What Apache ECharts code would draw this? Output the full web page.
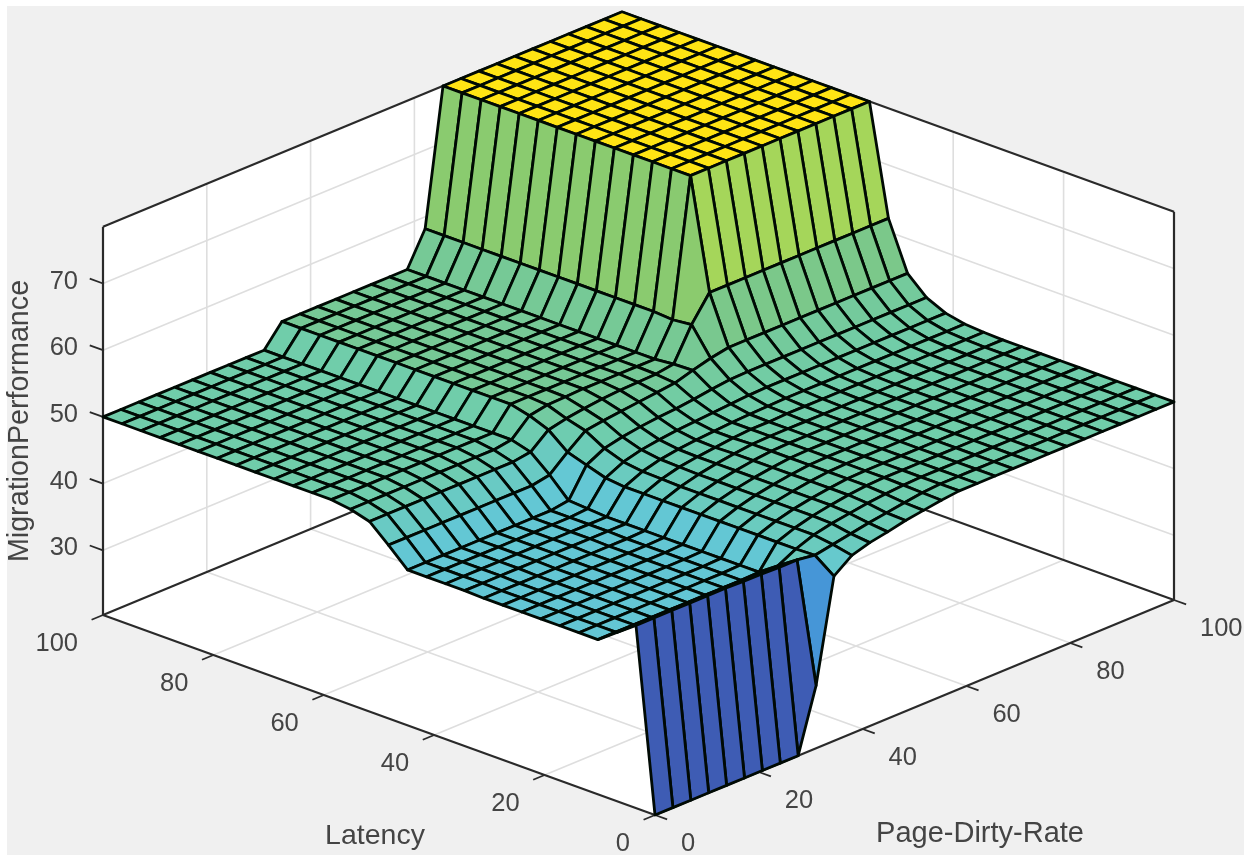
<!DOCTYPE html>
<html><head><meta charset="utf-8">
<style>html,body{margin:0;padding:0;background:#fff}#c{width:1250px;height:862px;filter:blur(0.7px)}</style>
<script src="https://cdn.jsdelivr.net/npm/echarts@6/dist/echarts.min.js"></script></head>
<body><div id="c"></div>
<script>
var latencyTicks=[0,20,40,60,80,100];
var pageDirtyTicks=[0,20,40,60,80,100];
var performanceTicks=[30,40,50,60,70];
var gridSize=30;
// rows: Latency index 0..29, columns: Page-Dirty-Rate index 0..29
var performance=[
[20.3,20.3,20.3,20.3,20.3,20.3,20.3,20.3,20.3,29.7,45,47,47.8,48.3,48.9,49.3,49.7,50,50,50,50,50,50,50,50,50,50,50,50,50],
[47.7,47.7,47.7,47.7,47.7,47.7,47.6,47.6,47.5,47.5,47.1,47.6,48.1,48.6,49,49.4,49.8,50,50,50,50,50,50,50,50,50,50,50,50,50],
[45.6,45.6,45.6,45.6,45.6,45.6,45.6,45.6,45.6,45.6,47,48,48.6,49,49.4,49.7,49.9,50,50,50,50,50,50,50,50,50,50,50,50,50],
[43.5,43.5,43.5,43.5,43.5,43.5,43.5,43.5,43.5,43.6,47,48,48.7,49.2,49.6,49.9,50,50,50,50,50,50,50,50,50,50,50,50,50,50],
[43.5,43.5,43.5,43.5,43.5,43.5,43.5,43.5,43.5,43.6,47,48,48.7,49.2,49.6,49.9,50,50,50,50,50,50,50,50,50,50,50,50,50,50],
[43.5,43.5,43.5,43.5,43.5,43.5,43.5,43.5,43.5,43.6,47,48,48.7,49.2,49.6,49.9,50,50,50,50,50,50,50,50,50,50,50,50,50,50],
[43.5,43.5,43.5,43.5,43.5,43.5,43.5,43.5,43.5,43.6,47,48,48.7,49.2,49.6,49.9,50,50,50,50,50,50,50,50,50,50,50,50,50,50],
[43.5,43.5,43.5,43.5,43.5,43.5,43.5,43.5,43.5,43.6,47,48,48.7,49.2,49.6,49.9,50,50,50,50,50,50,50,50,50,50,50,50,50,50],
[43.5,43.5,43.5,43.5,43.5,43.5,43.5,43.5,43.5,43.6,47,48,48.7,49.2,49.6,49.9,50,50,50,50,50,50,50,50,50,50,50,50,50,50],
[43.5,43.5,43.5,43.5,43.5,43.5,43.5,43.5,43.5,43.6,47,48,48.7,49.2,49.6,49.9,50,50,50,50,50,50,50,50,50,50,50,50,50,50],
[43.6,43.6,43.6,43.6,43.6,43.6,43.6,43.6,43.6,43.6,47,48.1,48.8,49.2,49.5,49.8,50,50,50.1,50.1,50.1,50.1,50.1,50.1,50.1,50.1,50.1,50.1,50.1,50.1],
[43.6,43.6,43.6,43.6,43.6,43.6,43.6,43.6,43.6,43.6,47,48.2,48.9,49.3,49.6,49.8,50,50.1,50.2,50.3,50.3,50.3,50.3,50.3,50.3,50.3,50.3,50.3,50.3,50.3],
[43.6,43.6,43.6,43.6,43.6,43.6,43.6,43.6,43.6,43.8,47.3,48.6,49.3,49.7,50,50.2,50.4,50.6,50.8,50.9,50.9,50.9,50.9,50.9,50.9,50.9,50.9,50.9,50.9,50.9],
[43.6,43.6,43.6,43.6,43.6,43.6,43.6,43.6,43.6,44,48.2,49.6,50.2,50.6,50.9,51.1,51.4,51.8,52.1,52.2,52.2,52.2,52.2,52.2,52.2,52.2,52.2,52.2,52.2,52.2],
[46.3,46.3,46.3,46.3,46.3,46.3,46.3,46.3,46.3,46.8,49.1,51.2,51.6,51.9,52.2,52.5,52.8,53.6,54.3,54.8,54.8,54.8,54.8,54.8,54.8,54.8,54.8,54.8,54.8,54.8],
[48.8,48.8,48.8,48.8,48.8,48.8,48.8,48.8,48.8,49.2,51.4,52,52.4,52.7,52.9,53,53.1,53.5,58.3,62,62,62,62,62,62,62,62,62,62,62],
[49.6,49.6,49.6,49.6,49.6,49.6,49.6,49.6,49.6,50,52.5,53,53.1,53.2,53.2,53.2,53.2,53.2,58,78.5,78.5,78.5,78.5,78.5,78.5,78.5,78.5,78.5,78.5,78.5],
[50,50,50,50,50,50,50,50,50,50,53.2,53.2,53.2,53.2,53.2,53.2,53.2,53.2,58.2,78.5,78.5,78.5,78.5,78.5,78.5,78.5,78.5,78.5,78.5,78.5],
[50,50,50,50,50,50,50,50,50,50,53.2,53.2,53.2,53.2,53.2,53.2,53.2,53.2,58.2,78.5,78.5,78.5,78.5,78.5,78.5,78.5,78.5,78.5,78.5,78.5],
[50,50,50,50,50,50,50,50,50,50,53.2,53.2,53.2,53.2,53.2,53.2,53.2,53.2,58.2,78.5,78.5,78.5,78.5,78.5,78.5,78.5,78.5,78.5,78.5,78.5],
[50,50,50,50,50,50,50,50,50,50,53.2,53.2,53.2,53.2,53.2,53.2,53.2,53.2,58.2,78.5,78.5,78.5,78.5,78.5,78.5,78.5,78.5,78.5,78.5,78.5],
[50,50,50,50,50,50,50,50,50,50,53.2,53.2,53.2,53.2,53.2,53.2,53.2,53.2,58.2,78.5,78.5,78.5,78.5,78.5,78.5,78.5,78.5,78.5,78.5,78.5],
[50,50,50,50,50,50,50,50,50,50,53.2,53.2,53.2,53.2,53.2,53.2,53.2,53.2,58.2,78.5,78.5,78.5,78.5,78.5,78.5,78.5,78.5,78.5,78.5,78.5],
[50,50,50,50,50,50,50,50,50,50,53.2,53.2,53.2,53.2,53.2,53.2,53.2,53.2,58.2,78.5,78.5,78.5,78.5,78.5,78.5,78.5,78.5,78.5,78.5,78.5],
[50,50,50,50,50,50,50,50,50,50,53.2,53.2,53.2,53.2,53.2,53.2,53.2,53.2,58.2,78.5,78.5,78.5,78.5,78.5,78.5,78.5,78.5,78.5,78.5,78.5],
[50,50,50,50,50,50,50,50,50,50,53.2,53.2,53.2,53.2,53.2,53.2,53.2,53.2,58.2,78.5,78.5,78.5,78.5,78.5,78.5,78.5,78.5,78.5,78.5,78.5],
[50,50,50,50,50,50,50,50,50,50,53.2,53.2,53.2,53.2,53.2,53.2,53.2,53.2,58.2,78.5,78.5,78.5,78.5,78.5,78.5,78.5,78.5,78.5,78.5,78.5],
[50,50,50,50,50,50,50,50,50,50,53.2,53.2,53.2,53.2,53.2,53.2,53.2,53.2,58.2,78.5,78.5,78.5,78.5,78.5,78.5,78.5,78.5,78.5,78.5,78.5],
[50,50,50,50,50,50,50,50,50,50,53.2,53.2,53.2,53.2,53.2,53.2,53.2,53.2,58.2,78.5,78.5,78.5,78.5,78.5,78.5,78.5,78.5,78.5,78.5,78.5],
[50,50,50,50,50,50,50,50,50,50,53.2,53.2,53.2,53.2,53.2,53.2,53.2,53.2,58.2,78.5,78.5,78.5,78.5,78.5,78.5,78.5,78.5,78.5,78.5,78.5]
];
var colorStops=[[20.3,[62,92,180]],[29.7,[70,150,215]],[44,[100,200,212]],[50,[112,205,170]],[54,[120,200,145]],[58,[137,202,112]],[62,[165,214,90]],[72,[215,222,50]],[78.5,[255,228,20]]];

var zMin=20.3,zMax=78.5;
function project(L,P,z){return [655-5.52*L+5.19*P,815-2.0*L-2.15*P-6.67*(z-zMin)];}
function colorOf(z){
  for(var k=1;k<colorStops.length;k++){
    if(z<=colorStops[k][0]){
      var a=colorStops[k-1],b=colorStops[k],t=(z-a[0])/(b[0]-a[0]);
      return 'rgb('+[0,1,2].map(function(c){return Math.round(a[1][c]+(b[1][c]-a[1][c])*t);}).join(',')+')';
    }
  }
  return 'rgb(255,228,20)';
}
function pts(api,list){return list.map(function(p){return api.coord(p);});}

var fontName='"Liberation Sans",Arial,sans-serif';
var textColor='#444444';

function wallsItem(params,api){
  var c=[project(100,0,zMax),project(100,100,zMax),project(0,100,zMax),project(0,100,zMin),project(0,0,zMin),project(100,0,zMin)];
  return {type:'group',children:[
    {type:'rect',shape:{x:7,y:6,width:1237,height:849},style:{fill:'#f0f0f0'}},
    {type:'polygon',shape:{points:pts(api,c)},style:{fill:'#ffffff'}}
  ]};
}
function gridItem(params,api){
  var kids=[];
  function ln(a,b,col,w){var A=api.coord(a),B=api.coord(b);kids.push({type:'line',shape:{x1:A[0],y1:A[1],x2:B[0],y2:B[1]},style:{stroke:col,lineWidth:w}});}
  var g='#dedede';
  latencyTicks.forEach(function(v){
    if(v>0&&v<100){ln(project(v,0,zMin),project(v,100,zMin),g,1.6);ln(project(v,100,zMin),project(v,100,zMax),g,1.6);}
  });
  pageDirtyTicks.forEach(function(v){
    if(v>0&&v<100){ln(project(0,v,zMin),project(100,v,zMin),g,1.6);ln(project(100,v,zMin),project(100,v,zMax),g,1.6);}
  });
  performanceTicks.forEach(function(v){
    ln(project(100,0,v),project(100,100,v),g,1.6);ln(project(100,100,v),project(0,100,v),g,1.6);
  });
  var d='#2a2a2a';
  ln(project(100,0,zMin),project(100,100,zMin),d,2.2);
  ln(project(100,100,zMin),project(0,100,zMin),d,2.2);
  ln(project(100,0,zMin),project(0,0,zMin),d,2.2);
  ln(project(0,0,zMin),project(0,100,zMin),d,2.2);
  ln(project(100,0,zMin),project(100,0,zMax),d,2.2);
  ln(project(0,100,zMin),project(0,100,zMax),d,2.2);
  ln(project(100,0,zMax),project(100,100,zMax),d,2.2);
  ln(project(100,100,zMax),project(0,100,zMax),d,2.2);
  latencyTicks.forEach(function(v){ln(project(v,0,zMin),project(v,-2.2,zMin),d,1.8);});
  pageDirtyTicks.forEach(function(v){ln(project(0,v,zMin),project(-2.2,v,zMin),d,1.8);});
  performanceTicks.forEach(function(v){ln(project(100,0,v),project(102.4,0,v),d,1.8);});
  return {type:'group',children:kids};
}
function cellItem(params,api){
  var i=api.value(0),j=api.value(1),s=100/(gridSize-1);
  var q=[[i,j],[i+1,j],[i+1,j+1],[i,j+1]].map(function(n){return project(n[0]*s,n[1]*s,performance[n[0]][n[1]]);});
  return {type:'polygon',shape:{points:pts(api,q)},style:{fill:colorOf(performance[i][j]),stroke:'#000a04',lineWidth:2.8,lineJoin:'round'}};
}
function labelsItem(params,api){
  var kids=[];
  function tx(text,pos,dx,dy,align,size,extra){
    var A=api.coord(pos);
    var el={type:'text',x:A[0]+dx,y:A[1]+dy,style:{text:String(text),fill:textColor,font:size+'px '+fontName,textAlign:align,textVerticalAlign:'middle'}};
    if(extra)el.rotation=extra;
    kids.push(el);
  }
  latencyTicks.forEach(function(v){tx(v,project(v,0,zMin),-25,29,'right',25.5);});
  pageDirtyTicks.forEach(function(v){tx(v,project(0,v,zMin),26,29,'left',25.5);});
  performanceTicks.forEach(function(v){tx(v,project(100,0,v),-25,-2,'right',25.5);});
  tx('Latency',[375,836],0,0,'center',28.5);
  tx('Page-Dirty-Rate',[980,834],0,0,'center',29);
  tx('MigrationPerformance',[20,421],0,0,'center',28.7,Math.PI/2);
  return {type:'group',children:kids};
}

var cells=[];
for(var i=gridSize-2;i>=0;i--){for(var j=gridSize-2;j>=0;j--){cells.push([i,j]);}}

var chart=echarts.init(document.getElementById('c'),null,{renderer:'canvas'});
chart.setOption({
  animation:false,
  backgroundColor:'#ffffff',
  grid:{left:0,right:0,top:0,bottom:0},
  xAxis:{type:'value',min:0,max:1250,show:false},
  yAxis:{type:'value',min:0,max:862,inverse:true,show:false},
  series:[
    {type:'custom',coordinateSystem:'cartesian2d',data:[[0,0]],renderItem:wallsItem,clip:false,silent:true,z:1},
    {type:'custom',coordinateSystem:'cartesian2d',data:[[0,0]],renderItem:gridItem,clip:false,silent:true,z:2},
    {type:'custom',coordinateSystem:'cartesian2d',data:cells,renderItem:cellItem,clip:false,silent:true,z:3,progressive:0,encode:{x:0,y:1}},
    {type:'custom',coordinateSystem:'cartesian2d',data:[[0,0]],renderItem:labelsItem,clip:false,silent:true,z:4}
  ]
});
</script></body></html>
